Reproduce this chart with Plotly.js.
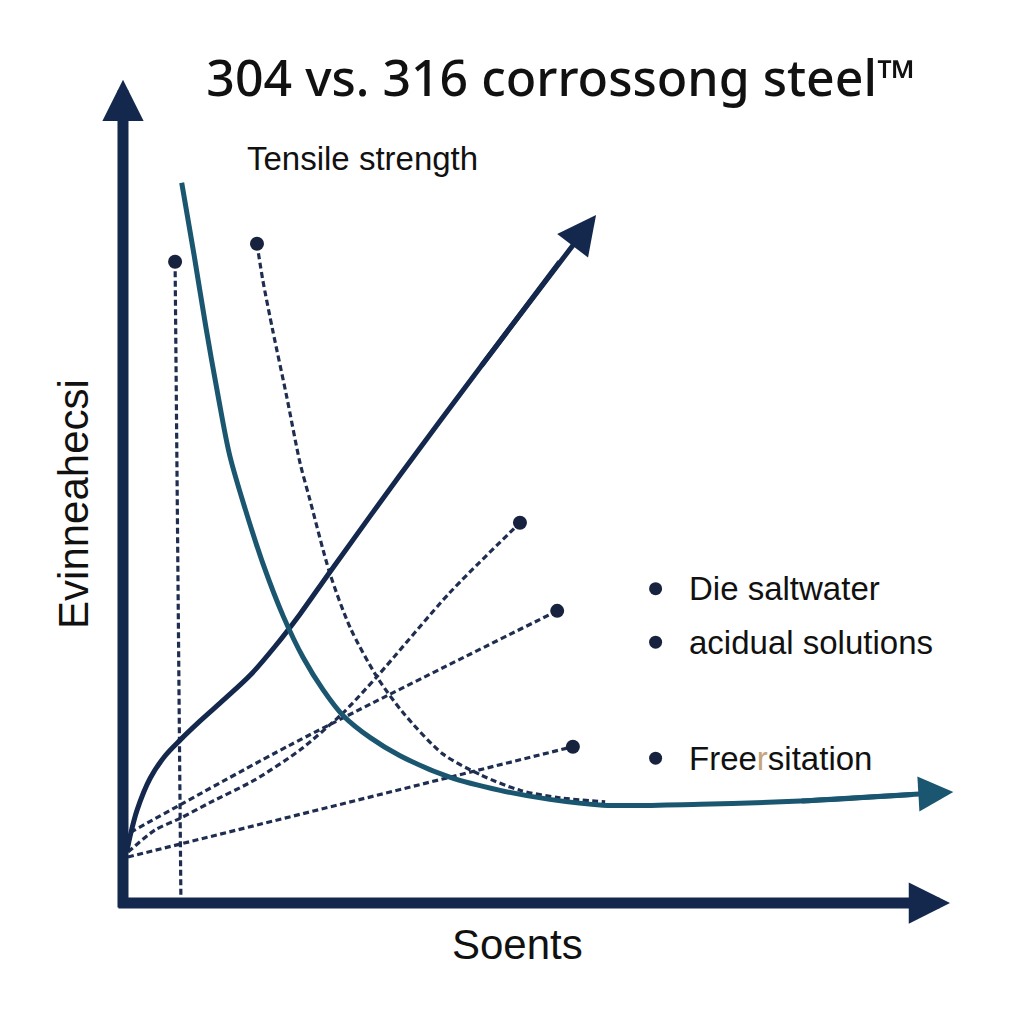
<!DOCTYPE html>
<html>
<head>
<meta charset="utf-8">
<script src="https://cdn.plot.ly/plotly-3.0.1.min.js"></script>
<style>html,body{margin:0;padding:0;background:#fff;}#chart{width:1024px;height:1024px;}</style>
</head>
<body>
<div id="chart"></div>
<script>
// ---- data (abstract 0-100 units) ----
const chartTitle = '304 vs. 316 corrossong steel™';
const subTitle = 'Tensile strength';
const xTitle = 'Soents';
const yTitle = 'Evinneahecsi';

// rising curve (navy, ends in arrow)
const riseX = [0.5, 0.9, 1.7, 3.3, 5.1, 6.9, 9.3, 12.3, 15.4, 18.4, 21.4, 25.0, 33.5, 43.2, 52.8];
const riseY = [6.4, 8.3, 11.3, 15.2, 17.9, 19.8, 22.1, 24.8, 27.7, 31.2, 35.1, 40.2, 52.0, 65.1, 77.9];
const riseTip = [57.2, 83.6];

// falling curve (teal, ends in arrow)
const fallX = [7.1, 8.6, 10.0, 11.5, 12.9, 14.8, 16.9, 19.4, 21.8, 24.2, 26.6, 29.9, 33.5, 39.5, 45.6, 51.6, 58.0, 69.8, 81.9, 95.5];
const fallY = [87.5, 78.7, 70.1, 61.6, 54.4, 47.8, 41.3, 34.8, 29.8, 25.9, 22.8, 20.1, 17.9, 15.3, 13.7, 12.6, 11.9, 12.0, 12.4, 13.2];
const fallTip = [100.4, 13.5];

// dashed guide lines
const dashVertX = [6.3, 7.0];
const dashVertY = [77.9, 0.7];
const dashDropX = [16.2, 16.9, 18.1, 19.8, 21.4, 22.6, 25.0, 27.5, 30.7, 33.9, 38.7, 43.2, 48.0, 52.8, 58.3];
const dashDropY = [80.1, 75.7, 69.6, 61.5, 53.5, 49.0, 40.1, 33.4, 27.5, 23.1, 18.1, 15.6, 13.7, 12.8, 12.3];
const dashUpperX = [0.6, 3.9, 6.9, 10.5, 16.0, 21.4, 26.6, 30.7, 39.5, 48.0];
const dashUpperY = [6.2, 8.9, 10.3, 12.2, 15.0, 18.6, 23.1, 27.5, 37.7, 46.2];
const dashMidX = [0.9, 20.2, 52.5];
const dashMidY = [8.6, 19.2, 35.5];
const dashLowX = [0.6, 54.4];
const dashLowY = [5.6, 19.0];

// end-point dots
const dotX = [6.3, 16.2, 48.0, 52.5, 54.4];
const dotY = [77.9, 80.1, 46.2, 35.5, 19.0];

// bullet labels
const labels = ['Die saltwater', 'acidual solutions', 'Free<span style="color:#c6a47c">r</span>sitation'];
const labelY = [38.2, 31.7, 17.6];
const bulletX = 64.4;
const labelX = 68.2;

// ---- styles ----
const NAVY = '#13284c';
const TEAL = '#1b5670';
const DASH = '#1f2e50';
const dashStyle = {color: DASH, width: 3.2, dash: '6px,3.5px'};

const traces = [
  {x: dashVertX, y: dashVertY, mode: 'lines', line: dashStyle},
  {x: dashDropX, y: dashDropY, mode: 'lines', line: Object.assign({shape: 'spline', smoothing: 0.8}, dashStyle)},
  {x: dashUpperX, y: dashUpperY, mode: 'lines', line: Object.assign({shape: 'spline', smoothing: 0.7}, dashStyle)},
  {x: dashMidX, y: dashMidY, mode: 'lines', line: Object.assign({shape: 'spline', smoothing: 0.7}, dashStyle)},
  {x: dashLowX, y: dashLowY, mode: 'lines', line: dashStyle},
  {x: riseX, y: riseY, mode: 'lines', line: {color: NAVY, width: 5, shape: 'spline', smoothing: 0.9}},
  {x: fallX, y: fallY, mode: 'lines', line: {color: TEAL, width: 5, shape: 'spline', smoothing: 0.9}},
  {x: dotX, y: dotY, mode: 'markers', marker: {color: '#17223f', size: 14}, cliponaxis: false},
  {x: labelY.map(() => bulletX), y: labelY, mode: 'markers', marker: {color: '#17223f', size: 13}, cliponaxis: false}
];

function arrow(fromX, fromY, toX, toY, color, width, size) {
  return {x: toX, y: toY, ax: fromX, ay: fromY, xref: 'x', yref: 'y', axref: 'x', ayref: 'y',
          text: '', showarrow: true, arrowhead: 2, arrowwidth: width, arrowsize: size, arrowcolor: color, standoff: 0, startstandoff: 0};
}

const n = riseX.length, m = fallX.length;
const annotations = [
  arrow(0, -0.73, 0, 100, NAVY, 11, 0.75),
  arrow(-0.73, 0, 100, 0, NAVY, 11, 0.75),
  arrow(riseX[n - 2], riseY[n - 2], riseTip[0], riseTip[1], NAVY, 5, 1.55),
  arrow(fallX[m - 2], fallY[m - 2], fallTip[0], fallTip[1], TEAL, 5, 1.4),
  {x: 29.0, y: 90.4, xref: 'x', yref: 'y', text: subTitle, showarrow: false, xanchor: 'center', yanchor: 'middle',
   font: {family: 'Liberation Sans, Arial, sans-serif', size: 33, color: '#111'}},
  {x: 0.478, y: -0.0207, xref: 'paper', yref: 'paper', text: xTitle, showarrow: false, xanchor: 'center', yanchor: 'middle',
   font: {family: 'Liberation Sans, Arial, sans-serif', size: 42, color: '#111'}},
  {x: -0.031, y: 0.485, xref: 'paper', yref: 'paper', text: yTitle, showarrow: false, textangle: -90, xanchor: 'center', yanchor: 'middle',
   font: {family: 'Liberation Sans, Arial, sans-serif', size: 42, color: '#111'}}
];
labels.forEach((t, i) => annotations.push({
  x: labelX, y: labelY[i], xref: 'x', yref: 'y', text: t, showarrow: false, xanchor: 'left', yanchor: 'middle',
  font: {family: 'Liberation Sans, Arial, sans-serif', size: 33, color: '#111'}
}));

const axisStyle = {range: [-2.78, 102.9], showgrid: false, zeroline: false, showticklabels: false, showline: false, ticks: '', fixedrange: true};

const layout = {
  width: 1024, height: 1024,
  paper_bgcolor: '#ffffff', plot_bgcolor: '#ffffff',
  margin: {l: 100, r: 50, t: 56, b: 98},
  showlegend: false,
  title: {text: chartTitle, x: 561 / 1024, y: 1 - 78 / 1024, xref: 'container', yref: 'container', xanchor: 'center', yanchor: 'middle',
          font: {family: 'Noto Sans, Open Sans, sans-serif', size: 50, color: '#111', weight: 500}},
  xaxis: axisStyle,
  yaxis: Object.assign({}, axisStyle),
  annotations: annotations
};

Plotly.newPlot('chart', traces, layout, {displayModeBar: false, staticPlot: true});
</script>
</body>
</html>
